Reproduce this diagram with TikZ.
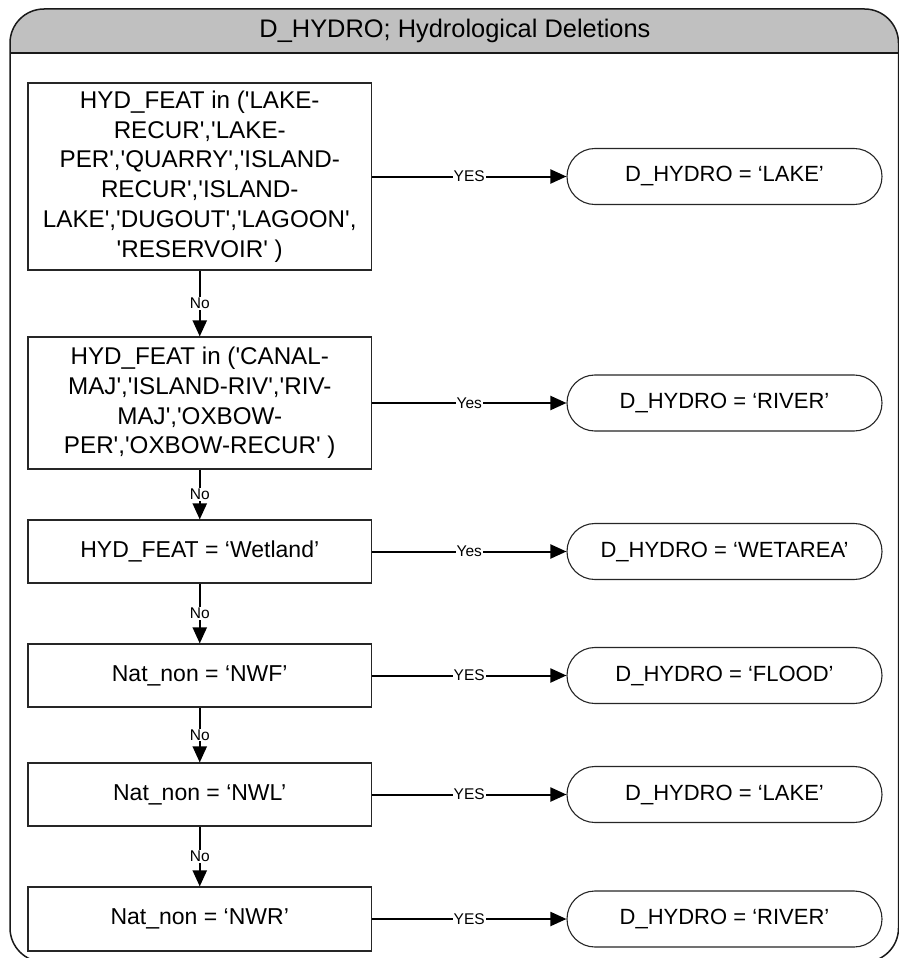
\documentclass[tikz,border=0pt]{standalone}
\usepackage{fontspec}
\setmainfont{Liberation Sans}[Ligatures=TeXOff]
\usetikzlibrary{arrows.meta}

\begin{document}
\begin{tikzpicture}[x=1pt, y=-1pt,
  cond/.style={draw=black!85, line width=1.1pt, fill=white, align=center,
    inner sep=0pt, minimum width=343.5pt,
    font=\fontsize{23}{29.7}\selectfont},
  bigcond/.style={cond, font=\fontsize{24.2}{29.7}\selectfont},
  result/.style={draw=black!85, line width=1.1pt, fill=white, inner sep=0pt,
    minimum width=315pt, minimum height=56pt, rounded corners=27.9pt,
    font=\fontsize{22}{26}\selectfont},
  flow/.style={draw=black, line width=2pt,
    -{Triangle[length=16pt, width=14pt]}},
  tag/.style={fill=white, inner sep=0.8pt, font=\fontsize{15.5}{16}\selectfont},
  titletext/.style={font=\fontsize{25.4}{28}\selectfont}
]
\useasboundingbox (0,0) rectangle (899,958);

% outer frame with grey title band
\def\framepath{(454,962) -- (10,962) -- (10,9) -- (898.5,9) -- (898.5,962) -- cycle}
\begin{scope}
  \clip (0,0) rectangle (899,53);
  \fill[fill={rgb,255:red,192;green,192;blue,192}, rounded corners=34pt] \framepath;
\end{scope}
\draw[line width=1.5pt, black!90, rounded corners=34pt] \framepath;
\draw[line width=1.5pt, black!90] (10,53) -- (898.5,53);
\node[titletext] (title) at (455,31) {D\_HYDRO; Hydrological Deletions};

% condition boxes
\node[bigcond, minimum height=187pt] (c1) at (199.75,176.5)
  {HYD\_FEAT in ('LAKE-\\RECUR','LAKE-\\PER','QUARRY','ISLAND-\\RECUR','ISLAND-\\LAKE','DUGOUT','LAGOON',\\'RESERVOIR' )};
\node[bigcond, minimum height=132pt] (c2) at (199.75,403)
  {HYD\_FEAT in ('CANAL-\\MAJ','ISLAND-RIV','RIV-\\MAJ','OXBOW-\\PER','OXBOW-RECUR' )};
\node[cond, minimum height=63pt] (c3) at (199.75,551.5) {HYD\_FEAT = ‘Wetland’};
\node[cond, minimum height=63pt] (c4) at (199.75,675.5) {Nat\_non = ‘NWF’};
\node[cond, minimum height=63pt] (c5) at (199.75,794.5) {Nat\_non = ‘NWL’};
\node[cond, minimum height=64pt] (c6) at (199.75,919) {Nat\_non = ‘NWR’};

% result terminals
\node[result] (r1) at (724.5,176.5) {D\_HYDRO = ‘LAKE’};
\node[result] (r2) at (724.5,403) {D\_HYDRO = ‘RIVER’};
\node[result] (r3) at (724.5,551.5) {D\_HYDRO = ‘WETAREA’};
\node[result] (r4) at (724.5,675.5) {D\_HYDRO = ‘FLOOD’};
\node[result] (r5) at (724.5,794.5) {D\_HYDRO = ‘LAKE’};
\node[result] (r6) at (724.5,919) {D\_HYDRO = ‘RIVER’};

% "No" branches
\draw[flow] (c1) -- node[tag] {No} (c2);
\draw[flow] (c2) -- node[tag] {No} (c3);
\draw[flow] (c3) -- node[tag] {No} (c4);
\draw[flow] (c4) -- node[tag] {No} (c5);
\draw[flow] (c5) -- node[tag] {No} (c6);

% "Yes" branches
\draw[flow] (c1) -- node[tag] {YES} (r1);
\draw[flow] (c2) -- node[tag] {Yes} (r2);
\draw[flow] (c3) -- node[tag] {Yes} (r3);
\draw[flow] (c4) -- node[tag] {YES} (r4);
\draw[flow] (c5) -- node[tag] {YES} (r5);
\draw[flow] (c6) -- node[tag] {YES} (r6);
\end{tikzpicture}
\end{document}
